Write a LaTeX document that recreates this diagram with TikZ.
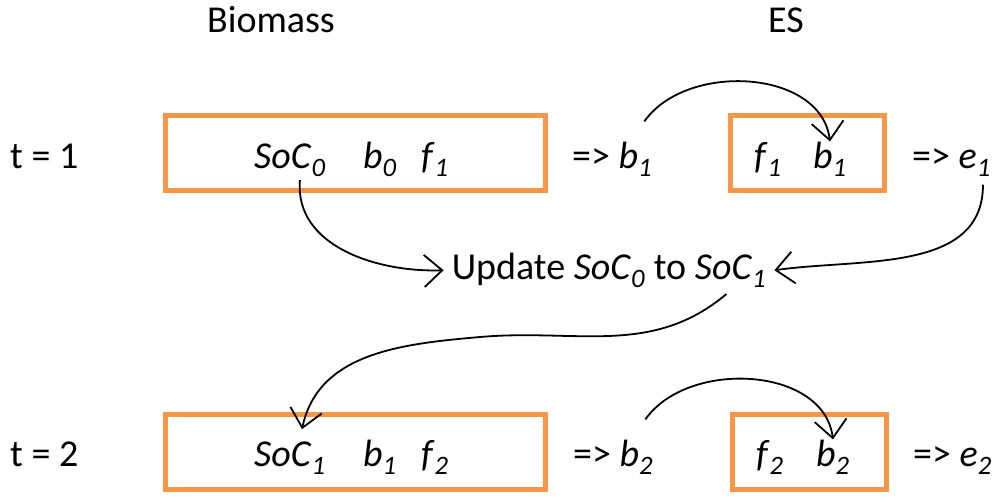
\documentclass[tikz,border=0pt]{standalone}
\usepackage{fontspec}
\setmainfont{Carlito}
\usetikzlibrary{arrows.meta,calc}
\definecolor{boxorange}{HTML}{F79646}
\newcommand\myv[2]{\textit{#1}\textsubscript{\textit{#2}}}
\tikzset{
  txt/.style={inner sep=0pt, anchor=base west, font=\fontsize{38}{45}\selectfont},
  obox/.style={draw=boxorange, line width=5pt, rectangle, inner sep=0pt},
  conn/.style={draw=black, line width=1.8pt, -{Straight Barb[length=18pt,width=32pt,line width=1.8pt]}}
}
\begin{document}
\begin{tikzpicture}[x=1pt,y=-1pt]
\useasboundingbox (0,0) rectangle (1004,499);
% headers
\node[txt, anchor=base] (biomass) at (271,32) {Biomass};
\node[txt, anchor=base] (es) at (786,32) {ES};
% row 1
\node[obox, minimum width=380pt, minimum height=75pt] (box1) at (355.5,153) {};
\node[obox, minimum width=154pt, minimum height=75pt] (box2) at (807,153) {};
\node[txt] (t1) at (10,168) {t = 1};
\node[txt] (soc0) at (254,168) {\myv{SoC}{0}};
\node[txt] (b0) at (363,168) {\myv{b}{0}};
\node[txt] (f1) at (421,168) {\myv{f}{1}};
\node[txt] (arrb1) at (572,168) {=> \myv{b}{1}};
\node[txt] (f1e) at (754,168) {\myv{f}{1}};
\node[txt] (b1e) at (813,168) {\myv{b}{1}};
\node[txt] (arre1) at (912,168) {=> \myv{e}{1}};
% middle
\node[txt, anchor=base] (update) at (609,279) {Update \myv{SoC}{0} to \myv{SoC}{1}};
% row 2
\node[obox, minimum width=380pt, minimum height=75pt] (box3) at (355.5,452) {};
\node[obox, minimum width=154pt, minimum height=75pt] (box4) at (809,452) {};
\node[txt] (t2) at (10,466) {t = 2};
\node[txt] (soc1) at (254,466) {\myv{SoC}{1}};
\node[txt] (b1) at (363,466) {\myv{b}{1}};
\node[txt] (f2) at (421,466) {\myv{f}{2}};
\node[txt] (arrb2) at (573,466) {=> \myv{b}{2}};
\node[txt] (f2e) at (756,466) {\myv{f}{2}};
\node[txt] (b2e) at (816,466) {\myv{b}{2}};
\node[txt] (arre2) at (913,466) {=> \myv{e}{2}};
% connectors
\draw[conn] ([xshift=-8pt,yshift=20pt]arrb1.north east) to[out=55,in=97] ([xshift=0pt,yshift=0pt]b1e.north);
\draw[conn] ([xshift=-8pt,yshift=20pt]arrb2.north east) to[out=55,in=97] ([xshift=0pt,yshift=0pt]b2e.north);
\draw[conn] ([xshift=10pt,yshift=-3pt]soc0.south) to[out=-95,in=182] ([xshift=-8pt]update.west);
\draw[conn] ([xshift=-8pt,yshift=-8pt]arre1.south east) to[out=-90,in=8] ([xshift=8pt]update.east);
\draw[conn] ([xshift=-40pt,yshift=-6pt]update.south east) to[out=-140,in=5] (480,337) to[out=185,in=78] ([xshift=48pt,yshift=12pt]soc1.north west);
\end{tikzpicture}
\end{document}
